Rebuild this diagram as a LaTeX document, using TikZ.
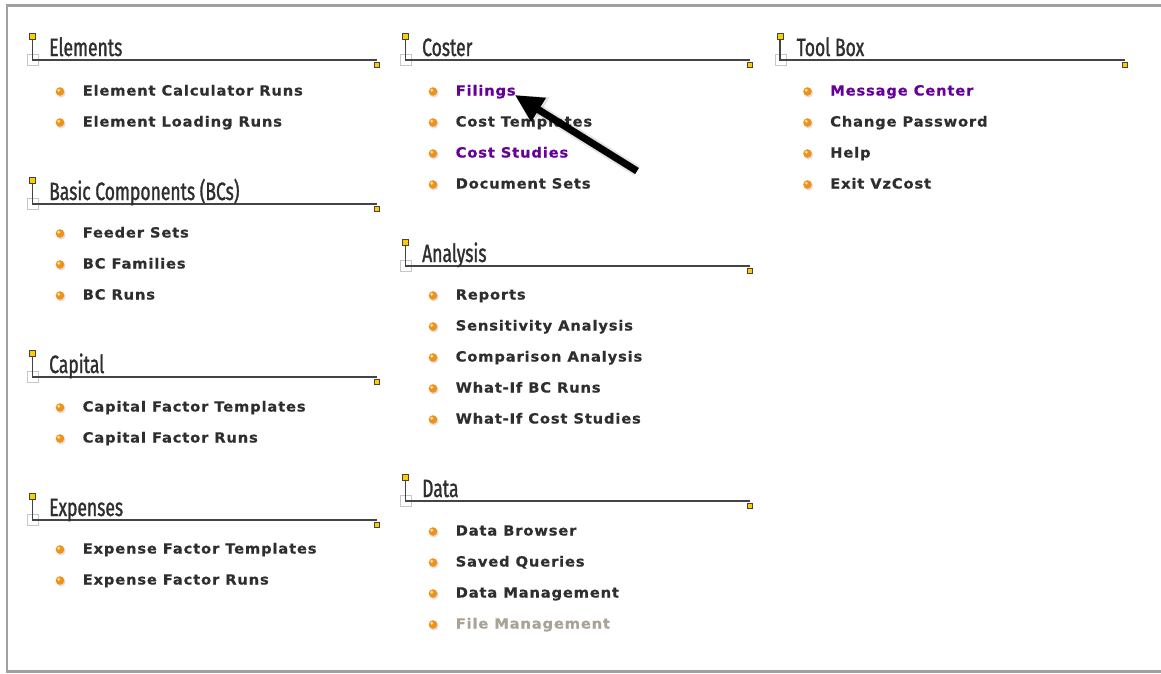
\documentclass[tikz,border=0pt]{standalone}
\usepackage{fontspec}
\usetikzlibrary{arrows.meta,calc}
\newfontfamily\headfont[FakeStretch=0.7,FakeBold=1.2]{Fira Sans}
\newfontfamily\itemfont[FakeStretch=1.05,LetterSpace=6,FakeBold=0.5]{DejaVu Sans}
\definecolor{txt}{HTML}{2E2E2E}
\definecolor{lnk}{HTML}{660099}
\definecolor{dimtxt}{HTML}{A8A396}
\definecolor{yel}{HTML}{FFCC00}
\definecolor{rulec}{HTML}{444444}
\definecolor{bul}{HTML}{F0921A}
\definecolor{bullight}{HTML}{FFE0A0}
\definecolor{framec}{HTML}{A0A0A0}
\tikzset{
  headline/.style={draw=rulec, line width=1.3pt},
  headtext/.style={anchor=base west, inner sep=0pt, font=\headfont\fontsize{25}{27}\selectfont, text=txt},
  itemtext/.style={anchor=base west, inner sep=0pt, font=\itemfont\bfseries\fontsize{14}{16}\selectfont, text=txt},
  yelsq/.style={fill=yel, draw=rulec, line width=0.8pt},
  greysq/.style={draw=black!22, line width=0.9pt},
}
% #1 node name, #2 marker x, #3 line y, #4 line end x, #5 text
\newcommand{\sechead}[5]{%
  \draw[greysq] (#2-5,#3-5.5) rectangle (#2+6,#3+5.5);
  \draw[headline] (#2,#3-21) -- (#2,#3) -- (#4,#3);
  \filldraw[yelsq] (#2-3,#3-27) rectangle (#2+3,#3-21);
  \filldraw[yelsq] (#4-2.5,#3+2) rectangle (#4+2.5,#3+7);
  \node[headtext] (#1) at (#2+16.5,#3-4) {#5};
}
% #1 node name, #2 marker x, #3 y, #4 colour, #5 text
\newcommand{\secitem}[5]{%
  \fill[black, opacity=0.12] (#2+28.5,#3+3) circle (4.6);
  \fill[bul] (#2+27.5,#3+1.5) circle (4.3);
  \fill[bullight] (#2+26.3,#3+0.2) circle (1.6);
  \node[itemtext, text=#4] (#1) at (#2+50,#3+5.5) {#5};
}
\begin{document}
\begin{tikzpicture}[x=1pt,y=-1pt]
\useasboundingbox (0,0) rectangle (1161,673);
\fill[white] (0,0) rectangle (1161,673);
\draw[framec, line width=2.5pt] (1165,5.5) -- (7,5.5) -- (7,671.5) -- (1165,671.5);

% column 1
\sechead{hElements}{32.5}{60}{377}{Elements}
\secitem{iElemCalc}{32.5}{90}{txt}{Element Calculator Runs}
\secitem{iElemLoad}{32.5}{121}{txt}{Element Loading Runs}

\sechead{hBC}{32.5}{204}{377}{Basic Components (BCs)}
\secitem{iFeeder}{32.5}{232}{txt}{Feeder Sets}
\secitem{iBCFam}{32.5}{263}{txt}{BC Families}
\secitem{iBCRuns}{32.5}{294}{txt}{BC Runs}

\sechead{hCapital}{32.5}{377}{377}{Capital}
\secitem{iCapTpl}{32.5}{406}{txt}{Capital Factor Templates}
\secitem{iCapRuns}{32.5}{437}{txt}{Capital Factor Runs}

\sechead{hExpenses}{32.5}{520}{377}{Expenses}
\secitem{iExpTpl}{32.5}{548}{txt}{Expense Factor Templates}
\secitem{iExpRuns}{32.5}{579}{txt}{Expense Factor Runs}

% column 2
\sechead{hCoster}{405.5}{60}{750}{Coster}
\secitem{filings}{405.5}{90}{lnk}{Filings}
\secitem{iCostTpl}{405.5}{121}{txt}{Cost Templates}
\secitem{iCostStud}{405.5}{152}{lnk}{Cost Studies}
\secitem{iDocSets}{405.5}{183}{txt}{Document Sets}

\sechead{hAnalysis}{405.5}{266}{750}{Analysis}
\secitem{iReports}{405.5}{294}{txt}{Reports}
\secitem{iSens}{405.5}{325}{txt}{Sensitivity Analysis}
\secitem{iComp}{405.5}{356}{txt}{Comparison Analysis}
\secitem{iWIBC}{405.5}{387}{txt}{What-If BC Runs}
\secitem{iWICS}{405.5}{418}{txt}{What-If Cost Studies}

\sechead{hData}{405.5}{501}{750}{Data}
\secitem{iBrowser}{405.5}{530}{txt}{Data Browser}
\secitem{iQueries}{405.5}{561}{txt}{Saved Queries}
\secitem{iDataMgmt}{405.5}{592}{txt}{Data Management}
\secitem{iFileMgmt}{405.5}{623}{dimtxt}{File Management}

% column 3
\sechead{hToolBox}{780}{60}{1125}{Tool Box}
\secitem{iMsg}{780}{90}{lnk}{Message Center}
\secitem{iPwd}{780}{121}{txt}{Change Password}
\secitem{iHelp}{780}{152}{txt}{Help}
\secitem{iExit}{780}{183}{txt}{Exit VzCost}

% pointer arrow
\coordinate (arrowtail) at (637,171);
\coordinate (arrowtip) at ($(filings.base east)+(-1,-0.5)$);
\begin{scope}[shift={(4,5)}]
  \draw[black, opacity=0.10, line width=11pt, -{Triangle[length=31pt,width=31pt]}] (arrowtail) -- (arrowtip);
  \draw[black, opacity=0.15, line width=7.5pt, -{Triangle[length=28pt,width=27pt]}] (arrowtail) -- (arrowtip);
\end{scope}
\draw[black, line width=7pt, -{Triangle[length=28pt,width=26pt]}] (arrowtail) -- (arrowtip);
\end{tikzpicture}
\end{document}
